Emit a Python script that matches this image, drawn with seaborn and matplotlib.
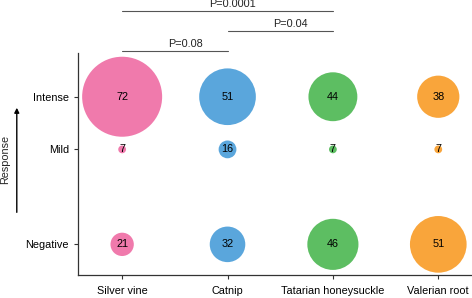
import pandas as pd
import seaborn as sns
import matplotlib.pyplot as plt

# plants tested and number of cats per response
plants = ["Silver vine", "Catnip", "Tatarian honeysuckle", "Valerian root"]
responses = ["Negative", "Mild", "Intense"]
response_pos = [0, 1.93, 3]
negative = [21, 32, 46, 51]
mild = [7, 16, 7, 7]
intense = [72, 51, 44, 38]
colors = ["#F07AAC", "#5AA6DC", "#5DBE62", "#F9A53B"]

# pairwise comparisons (plant a, plant b, label)
pairs = [(0, 1, "P=0.08"), (1, 2, "P=0.04"), (0, 2, "P=0.0001")]

rows = []
for resp, pos, vals in zip(responses, response_pos, [negative, mild, intense]):
    for plant, v in zip(plants, vals):
        rows.append({"plant": plant, "response": resp, "y": pos, "count": v})
df = pd.DataFrame(rows)
# circle diameter grows with the count
df["area"] = df["count"] ** 2

sns.set_style("ticks")
plt.rcParams["font.family"] = ["Liberation Sans", "DejaVu Sans"]
fs = 7.8

fig = plt.figure(figsize=(4.72, 2.98), dpi=100)
ax = fig.add_axes([0.165, 0.077, 0.835, 0.745])

sns.scatterplot(data=df, x="plant", y="y", hue="plant", palette=colors,
                size="area", sizes=(0, 3318), size_norm=(0, 72 ** 2),
                linewidth=0, alpha=1, legend=False, ax=ax)

# counts inside the circles
for _, r in df.iterrows():
    ax.text(plants.index(r["plant"]), r["y"], str(r["count"]),
            ha="center", va="center", fontsize=fs, color="black")

ax.set_xlim(-0.42, 3.32)
ax.set_ylim(-0.624, 3.888)
ax.set_yticks(response_pos, responses)
ax.set_xlabel("")
ax.set_ylabel("Response", fontsize=fs)
ax.yaxis.set_label_coords(-0.173, 0.52)
ax.tick_params(length=3, width=0.8, labelsize=fs, colors="#333333", labelcolor="black")
ax.tick_params(axis="x", pad=5)
sns.despine(ax=ax)
for s in ["left", "bottom"]:
    ax.spines[s].set_color("#333333")
    ax.spines[s].set_linewidth(0.9)

# arrow next to the y label
ax.annotate("", xy=(-0.155, 0.766), xytext=(-0.155, 0.27),
            xycoords="axes fraction", textcoords="axes fraction",
            arrowprops=dict(arrowstyle="-|>", color="black", lw=1, mutation_scale=7),
            annotation_clip=False)

# significance brackets
trans = ax.get_xaxis_transform()
levels = [1.009, 1.099, 1.189]
for (a, b, label), lv in zip(pairs, levels):
    ax.plot([a, b], [lv, lv], color="#555555", lw=0.8, transform=trans, clip_on=False)
    shift = 0.05 if b - a > 1 else 0.1
    ax.text((a + b) / 2 + shift, lv + 0.031, label, ha="center", va="center",
            fontsize=fs, color="#222222", transform=trans)

plt.savefig("out.png", dpi=100)
